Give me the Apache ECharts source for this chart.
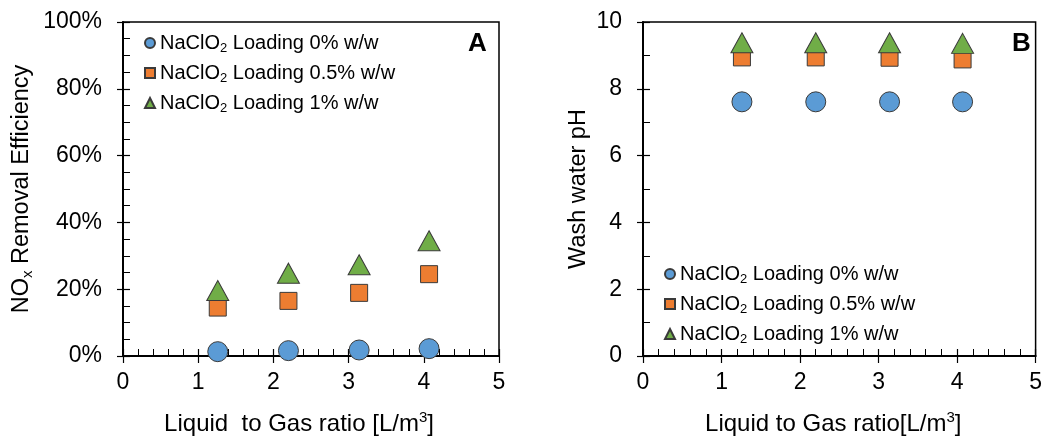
<!DOCTYPE html>
<html>
<head>
<meta charset="utf-8">
<script src="https://cdn.jsdelivr.net/npm/echarts@6/dist/echarts.min.js"></script>
<style>
  html, body { margin: 0; padding: 0; background: #fff; }
  #main { width: 1045px; height: 441px; }
</style>
</head>
<body>
<div id="main"></div>
<script>
// liquid to gas ratio, L/m3 (same four runs in both panels)
const lgRatio = [1.26, 2.20, 3.14, 4.07];
const loadingNames = ['NaClO2 Loading 0% w/w', 'NaClO2 Loading 0.5% w/w', 'NaClO2 Loading 1% w/w'];

// panel A: NOx removal efficiency (fraction)
const noxLoad0 = [0.013, 0.016, 0.018, 0.022];
const noxLoad05 = [0.145, 0.165, 0.189, 0.245];
const noxLoad1 = [0.196, 0.248, 0.273, 0.345];

// panel B: wash water pH
const phLoad0 = [7.61, 7.61, 7.61, 7.61];
const phLoad05 = [8.94, 8.94, 8.93, 8.88];
const phLoad1 = [9.38, 9.38, 9.38, 9.36];

const FONT = "'Liberation Sans', Arial, sans-serif";
const colors = ['#5B9BD5', '#ED7D31', '#70AD47'];
const symbols = ['circle', 'rect', 'triangle'];
const sizes = [20, 17, [22, 20]];

const chart = echarts.init(document.getElementById('main'), null, { renderer: 'canvas' });

function pairs(ys) {
  return lgRatio.map((x, i) => [x, ys[i]]);
}

function legendFmt(name) {
  return '{a|NaClO}{s|2}{a|' + name.slice(6) + '}';
}

const legendRich = {
  a: { fontSize: 20, fontFamily: FONT, color: '#000', lineHeight: 24 },
  s: { fontSize: 13, fontFamily: FONT, color: '#000', lineHeight: 13, verticalAlign: 'bottom' }
};

// main axis: line, labels, inner ticks + minor ticks
function mainX(grid, nameText, shift) {
  return {
    type: 'value', gridIndex: grid, position: 'bottom',
    min: 0, max: 5, interval: 1,
    axisLine: { show: true, onZero: false, lineStyle: { color: '#000', width: 2 } },
    axisTick: { show: true, inside: true, length: 7, lineStyle: { color: '#000', width: 1.2 } },
    minorTick: { show: true, splitNumber: 5, length: 7, lineStyle: { color: '#000', width: 1 } },
    axisLabel: { margin: 15, fontSize: 23, fontFamily: FONT, color: '#000' },
    splitLine: { show: false },
    name: nameText, nameLocation: 'middle', nameGap: 54,
    nameTextStyle: {
      padding: [0, shift, 0, 0],
      rich: {
        a: { fontSize: 24, fontFamily: FONT, color: '#000', lineHeight: 28 },
        sup: { fontSize: 15, fontFamily: FONT, color: '#000', lineHeight: 15, verticalAlign: 'top' }
      }
    }
  };
}

// second copy of the axis, only for the outer half of the major ticks
function outerX(grid) {
  return {
    type: 'value', gridIndex: grid, position: 'bottom',
    min: 0, max: 5, interval: 1,
    axisLine: { show: false, onZero: false },
    axisTick: { show: true, inside: false, length: 7, lineStyle: { color: '#000', width: 1.2 } },
    axisLabel: { show: false },
    splitLine: { show: false }
  };
}

function mainY(grid, max, interval, minor, fmt, nameText, gap) {
  return {
    type: 'value', gridIndex: grid, position: 'left',
    min: 0, max: max, interval: interval,
    axisLine: { show: true, onZero: false, lineStyle: { color: '#000', width: 2 } },
    axisTick: { show: true, inside: true, length: 7, lineStyle: { color: '#000', width: 1.2 } },
    minorTick: { show: true, splitNumber: minor, length: 7, lineStyle: { color: '#000', width: 1 } },
    axisLabel: { margin: 21, fontSize: 23, fontFamily: FONT, color: '#000', formatter: fmt },
    splitLine: { show: false },
    name: nameText, nameLocation: 'middle', nameGap: gap, nameRotate: 90,
    nameTextStyle: {
      rich: {
        a: { fontSize: 23.5, fontFamily: FONT, color: '#000', lineHeight: 27 },
        s: { fontSize: 15, fontFamily: FONT, color: '#000', lineHeight: 15, verticalAlign: 'bottom' }
      }
    }
  };
}

function outerY(grid, max, interval) {
  return {
    type: 'value', gridIndex: grid, position: 'left',
    min: 0, max: max, interval: interval,
    axisLine: { show: false, onZero: false },
    axisTick: { show: true, inside: false, length: 6, lineStyle: { color: '#000', width: 1.2 } },
    axisLabel: { show: false },
    splitLine: { show: false }
  };
}

function scatter(name, k, ys, axis) {
  return {
    name: name, type: 'scatter',
    xAxisIndex: axis, yAxisIndex: axis,
    symbol: symbols[k], symbolSize: sizes[k],
    itemStyle: { color: colors[k], borderColor: '#3a3a3a', borderWidth: 1, opacity: 1 },
    data: pairs(ys)
  };
}

var option = {
  animation: false,
  backgroundColor: '#fff',
  grid: [
    { left: 123, top: 22, width: 376, height: 340, show: true, borderColor: '#000', borderWidth: 1.5, backgroundColor: 'transparent' },
    { left: 643, top: 22, width: 395, height: 340, show: true, borderColor: '#000', borderWidth: 1.5, backgroundColor: 'transparent' }
  ],
  xAxis: [
    mainX(0, '{a|Liquid  to Gas ratio [L/m}{sup|3}{a|]}', 24),
    mainX(1, '{a|Liquid to Gas ratio[L/m}{sup|3}{a|]}', 12),
    outerX(0),
    outerX(1)
  ],
  yAxis: [
    mainY(0, 1, 0.2, 4, v => Math.round(v * 100) + '%', '{a|NO}{s|x}{a| Removal Efficiency}', 88),
    mainY(1, 10, 2, 2, null, '{a|Wash water pH}', 51),
    outerY(0, 1, 0.2),
    outerY(1, 10, 2)
  ],
  legend: [
    {
      orient: 'vertical', left: 139, top: 28,
      itemWidth: 10, itemHeight: 10, itemGap: 8,
      data: loadingNames, formatter: legendFmt,
      textStyle: { rich: legendRich }
    },
    {
      orient: 'vertical', left: 659, top: 259,
      itemWidth: 10, itemHeight: 10, itemGap: 8,
      data: loadingNames, formatter: legendFmt,
      textStyle: { rich: legendRich }
    }
  ],
  graphic: [
    { type: 'text', left: 468, top: 31, style: { text: 'A', font: 'bold 26px ' + FONT, fill: '#000' } },
    { type: 'text', left: 1012, top: 31, style: { text: 'B', font: 'bold 26px ' + FONT, fill: '#000' } }
  ],
  series: [
    scatter(loadingNames[0], 0, noxLoad0, 0),
    scatter(loadingNames[1], 1, noxLoad05, 0),
    scatter(loadingNames[2], 2, noxLoad1, 0),
    scatter(loadingNames[0], 0, phLoad0, 1),
    scatter(loadingNames[1], 1, phLoad05, 1),
    scatter(loadingNames[2], 2, phLoad1, 1)
  ]
};

chart.setOption(option);
</script>
</body>
</html>
